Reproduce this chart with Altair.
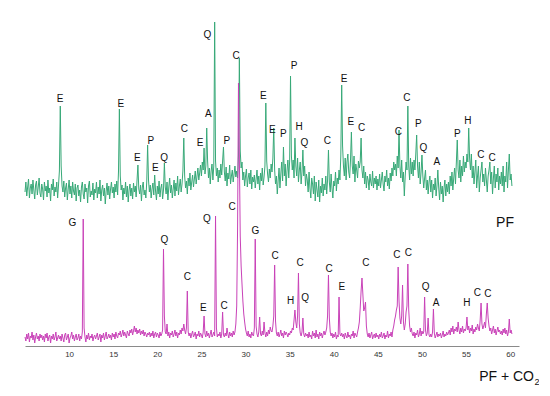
import altair as alt
import pandas as pd
import numpy as np

# ---------------- data ----------------
two_theta_start = 5.0
two_theta_step = 0.1

# PF trace (height above its own baseline), one value every 0.1 deg from 5.0 to 60.2
pf_intensity = [
    14, 24, 10, 19, 27, 8, 18, 22, 12, 26, 16, 7, 21, 25, 11, 19, 28, 13, 9, 22,
    17, 6, 24, 15, 20, 9, 26, 13, 18, 5, 22, 16, 27, 10, 19, 14, 24, 8, 21, 35,
    100, 40, 20, 14, 25, 9, 18, 23, 6, 17, 26, 12, 20, 8, 24, 15, 11, 22, 5, 18,
    21, 10, 16, 4, 19, 24, 12, 7, 22, 14, 18, 3, 20, 25, 9, 15, 11, 23, 6, 17,
    13, 24, 8, 19, 12, 26, 5, 16, 21, 10, 18, 2, 15, 23, 11, 20, 7, 17, 24, 13,
    19, 8, 22, 14, 25, 11, 35, 97, 30, 16, 21, 6, 18, 12, 24, 9, 20, 4, 16, 22,
    10, 18, 7, 23, 14, 20, 9, 26, 41, 17, 12, 21, 5, 19, 24, 11, 16, 8, 24, 61,
    26, 14, 21, 8, 17, 23, 11, 31, 15, 6, 20, 12, 25, 9, 18, 22, 7, 16, 43, 19,
    12, 24, 6, 19, 28, 13, 21, 8, 17, 26, 10, 23, 15, 30, 11, 20, 27, 14, 22, 35,
    68, 30, 18, 25, 12, 28, 20, 33, 16, 24, 31, 19, 27, 35, 22, 30, 38, 26, 33, 41,
    30, 44, 36, 58, 32, 40, 78, 45, 28, 38, 22, 35, 42, 26, 40, 184, 45, 30, 38, 24,
    36, 28, 42, 31, 45, 59, 34, 25, 39, 20, 33, 27, 41, 22, 30, 36, 24, 32, 40, 29,
    35, 28, 50, 148, 55, 38, 44, 26, 34, 20, 30, 37, 19, 28, 33, 22, 36, 17, 29, 24,
    31, 18, 27, 36, 22, 30, 16, 33, 25, 38, 21, 29, 40, 103, 45, 32, 24, 37, 28, 42,
    34, 48, 78, 36, 22, 30, 12, 26, 38, 18, 32, 44, 25, 59, 30, 42, 20, 35, 46, 28,
    45, 130, 50, 36, 46, 28, 68, 40, 30, 48, 24, 36, 44, 22, 34, 56, 30, 40, 20, 32,
    26, 14, 34, 18, 8, 28, 22, 12, 30, 5, 24, 16, 9, 26, 4, 20, 13, 28, 10, 22,
    16, 30, 12, 26, 56, 24, 14, 32, 18, 8, 25, 20, 34, 15, 28, 22, 36, 26, 50, 121,
    60, 40, 30, 48, 26, 44, 52, 34, 28, 46, 74, 40, 32, 50, 24, 42, 36, 28, 45, 38,
    44, 68, 36, 28, 40, 22, 34, 18, 30, 26, 16, 32, 24, 20, 35, 18, 28, 22, 30, 16,
    27, 20, 32, 18, 26, 34, 22, 15, 30, 24, 36, 20, 28, 17, 33, 25, 38, 30, 44, 36,
    42, 30, 50, 38, 76, 40, 28, 46, 24, 34, 10, 30, 44, 36, 100, 40, 26, 48, 32, 44,
    30, 46, 36, 52, 71, 40, 28, 44, 22, 34, 51, 30, 18, 28, 36, 16, 26, 12, 24, 30,
    14, 26, 8, 22, 16, 28, 10, 20, 36, 18, 6, 24, 12, 20, 4, 18, 26, 10, 22, 14,
    24, 12, 30, 20, 34, 16, 28, 38, 22, 44, 66, 36, 28, 46, 24, 40, 30, 50, 34, 44,
    38, 52, 44, 78, 48, 36, 52, 28, 40, 22, 34, 46, 18, 30, 40, 14, 28, 36, 44, 24,
    32, 20, 38, 26, 14, 30, 36, 44, 22, 34, 12, 28, 40, 18, 32, 24, 38, 16, 30, 22,
    34, 20, 40, 14, 30, 24, 44, 18, 36, 52, 26, 32, 20,
]

# PF + CO2 trace, same sampling
pf_co2_intensity = [
    9, 5, 12, 7, 13, 4, 10, 8, 14, 6, 11, 3, 9, 13, 7, 10, 5, 12, 8, 11,
    6, 10, 4, 12, 8, 13, 5, 9, 11, 3, 10, 7, 12, 6, 9, 14, 5, 8, 11, 7,
    10, 5, 12, 8, 4, 11, 13, 6, 9, 12, 3, 8, 10, 14, 7, 11, 5, 9, 12, 6,
    8, 12, 5, 10, 7, 14, 127, 18, 9, 4, 11, 7, 13, 6, 10, 8, 12, 5, 9, 11,
    7, 10, 13, 6, 9, 12, 4, 11, 8, 13, 6, 10, 14, 7, 9, 12, 8, 11, 6, 13,
    9, 12, 7, 14, 10, 8, 13, 11, 15, 9, 12, 16, 10, 14, 11, 8, 15, 12, 10, 16,
    13, 17, 11, 15, 20, 14, 18, 12, 16, 13, 17, 11, 15, 12, 16, 10, 14, 12, 9, 13,
    11, 14, 9, 13, 10, 15, 8, 12, 14, 9, 13, 11, 8, 14, 10, 12, 16, 97, 30, 14,
    12, 22, 10, 14, 8, 13, 11, 15, 9, 12, 16, 10, 14, 8, 13, 11, 16, 12, 18, 15,
    22, 16, 12, 18, 55, 14, 10, 13, 8, 12, 15, 9, 11, 14, 7, 12, 10, 15, 9, 13,
    11, 8, 14, 30, 12, 9, 15, 10, 13, 8, 12, 16, 9, 11, 14, 10, 130, 18, 9, 12,
    10, 14, 8, 12, 34, 11, 9, 13, 10, 18, 12, 8, 14, 10, 13, 9, 15, 11, 14, 22,
    40, 120, 263, 190, 110, 80, 62, 45, 32, 24, 17, 13, 10, 15, 9, 12, 8, 14, 11, 10,
    18, 107, 20, 12, 9, 14, 29, 12, 10, 15, 11, 24, 13, 9, 14, 10, 16, 12, 19, 15,
    14, 20, 30, 81, 25, 13, 10, 14, 9, 12, 16, 10, 13, 8, 15, 11, 14, 12, 9, 13,
    11, 15, 13, 18, 16, 26, 36, 24, 18, 30, 73, 22, 13, 10, 14, 28, 12, 9, 13, 10,
    12, 8, 14, 9, 11, 7, 15, 10, 13, 8, 16, 9, 12, 7, 14, 10, 13, 8, 12, 15,
    11, 14, 18, 30, 71, 28, 14, 10, 13, 8, 12, 9, 14, 7, 11, 9, 49, 12, 10, 13,
    9, 12, 7, 13, 10, 8, 14, 9, 11, 7, 12, 10, 15, 8, 13, 11, 9, 14, 18, 24,
    38, 55, 68, 52, 35, 38, 44, 20, 12, 9, 13, 8, 11, 14, 7, 10, 12, 8, 13, 9,
    11, 7, 12, 9, 14, 8, 10, 13, 7, 11, 9, 15, 8, 12, 10, 14, 9, 16, 20, 26,
    30, 36, 40, 79, 45, 28, 22, 30, 61, 24, 16, 22, 34, 40, 82, 36, 20, 14, 18, 12,
    10, 14, 8, 13, 11, 16, 9, 12, 18, 10, 15, 12, 14, 49, 16, 10, 13, 28, 11, 9,
    12, 9, 14, 37, 13, 8, 11, 14, 9, 12, 10, 13, 8, 11, 15, 9, 12, 10, 14, 11,
    13, 16, 11, 18, 14, 20, 12, 17, 15, 19, 14, 24, 16, 12, 18, 14, 20, 13, 17, 15,
    18, 29, 16, 20, 13, 18, 15, 21, 12, 17, 14, 19, 16, 22, 18, 15, 26, 43, 22, 17,
    20, 24, 18, 32, 43, 28, 20, 15, 18, 12, 16, 20, 13, 17, 11, 15, 19, 14, 16, 12,
    15, 11, 17, 13, 18, 12, 16, 10, 14, 27, 13, 16, 12,
]

x_tick_values = [10, 15, 20, 25, 30, 35, 40, 45, 50, 55, 60]

# phase labels on the PF trace
pf_label_text = ["E", "E", "E", "P", "E", "Q", "C", "E", "A", "Q", "P", "C", "E", "E",
                 "P", "P", "H", "Q", "C", "E", "E", "C", "C", "C", "P", "Q", "A", "P",
                 "H", "C", "C"]
pf_label_x = [8.97, 15.85, 17.73, 19.25, 19.77, 20.76, 23.06, 24.84, 25.78, 25.67, 27.87,
              28.92, 32.02, 33.04, 34.29, 35.5, 36.07, 36.67, 39.27, 41.17, 41.93, 43.17,
              47.32, 48.28, 49.59, 50.16, 51.68, 54.01, 55.19, 56.67, 57.95]
pf_label_y = [107, 102, 48, 65, 38, 48, 77, 63, 92, 171, 65, 150, 110, 76, 72, 140, 79,
              63, 65, 127, 84, 78, 74, 108, 82, 58, 44, 72, 85, 51, 48]

# phase labels on the PF + CO2 trace
co2_label_text = ["G", "Q", "C", "E", "Q", "C", "C", "G", "C", "H", "C", "Q", "C", "E",
                  "C", "C", "C", "Q", "A", "H", "C", "C"]
co2_label_x = [10.36, 20.79, 23.4, 25.22, 25.63, 27.56, 28.47, 31.11, 33.34, 35.12, 36.18,
               36.75, 39.47, 40.91, 43.63, 47.14, 48.46, 50.43, 51.6, 55.08, 56.28, 57.46]
co2_label_y = [123, 106, 69, 38, 127, 40, 139, 115, 90, 45, 83, 48, 77, 59, 83, 91, 93,
               59, 43, 43, 53, 52]

PF_OFFSET = 140  # vertical shift of the PF trace above the PF + CO2 trace

GREEN = "#38a978"
MAGENTA = "#c942b8"
FONT = "Liberation Sans"

# ---------------- tables ----------------
n_pf = len(pf_intensity)
n_co2 = len(pf_co2_intensity)
df_pf = pd.DataFrame({
    "theta": np.round(two_theta_start + two_theta_step * np.arange(n_pf), 2),
    "v": pf_intensity,
})
df_co2 = pd.DataFrame({
    "theta": np.round(two_theta_start + two_theta_step * np.arange(n_co2), 2),
    "v": pf_co2_intensity,
})
df_pf_lab = pd.DataFrame({"theta": pf_label_x, "v": pf_label_y, "t": pf_label_text})
df_co2_lab = pd.DataFrame({"theta": co2_label_x, "v": co2_label_y, "t": co2_label_text})

x_scale = alt.Scale(domain=[5, 61], nice=False, zero=False)
y_scale = alt.Scale(domain=[0, 330], nice=False, zero=False)
x_axis = alt.Axis(values=x_tick_values, ticks=False, grid=False, domainColor="#8a8a8a",
                  domainWidth=1, labelFont=FONT, labelFontSize=8, labelColor="#333333",
                  labelPadding=4, title="")
X = alt.X("theta:Q", scale=x_scale, axis=x_axis)
Y = alt.Y("y:Q", scale=y_scale, axis=None)

pf_line = alt.Chart(df_pf).transform_calculate(
    y=f"datum.v + {PF_OFFSET}"
).mark_line(color=GREEN, strokeWidth=1).encode(x=X, y=Y)

co2_line = alt.Chart(df_co2).transform_calculate(
    y="datum.v"
).mark_line(color=MAGENTA, strokeWidth=1).encode(x=X, y=Y)

label_style = dict(font=FONT, fontSize=10, color="#111111", align="center", baseline="middle")

pf_text = alt.Chart(df_pf_lab).transform_calculate(
    y=f"datum.v + {PF_OFFSET}"
).mark_text(**label_style).encode(x=X, y=Y, text="t:N")

co2_text = alt.Chart(df_co2_lab).transform_calculate(
    y="datum.v"
).mark_text(**label_style).encode(x=X, y=Y, text="t:N")

pf_name = alt.Chart(pd.DataFrame({"t": ["PF"]})).mark_text(
    font=FONT, fontSize=14, color="#111111", align="center", baseline="middle"
).encode(text="t:N", x=alt.value(480), y=alt.value(207))

co2_name = alt.Chart(pd.DataFrame({"t": ["PF + CO"]})).mark_text(
    font=FONT, fontSize=14, color="#111111", align="right", baseline="middle"
).encode(text="t:N", x=alt.value(509), y=alt.value(361))

co2_sub = alt.Chart(pd.DataFrame({"t": ["2"]})).mark_text(
    font=FONT, fontSize=9, color="#111111", align="left", baseline="middle"
).encode(text="t:N", x=alt.value(509.5), y=alt.value(366))

chart = alt.layer(pf_line, co2_line, pf_text, co2_text, pf_name, co2_name, co2_sub).properties(
    width=494,
    height=330,
    autosize=alt.AutoSizeParams(type="none"),
    padding={"left": 17, "top": 8, "right": 20, "bottom": 42},
    background="white",
).configure_view(strokeWidth=0)

chart.save("out.html", embed_options={"renderer": "svg", "actions": False})
